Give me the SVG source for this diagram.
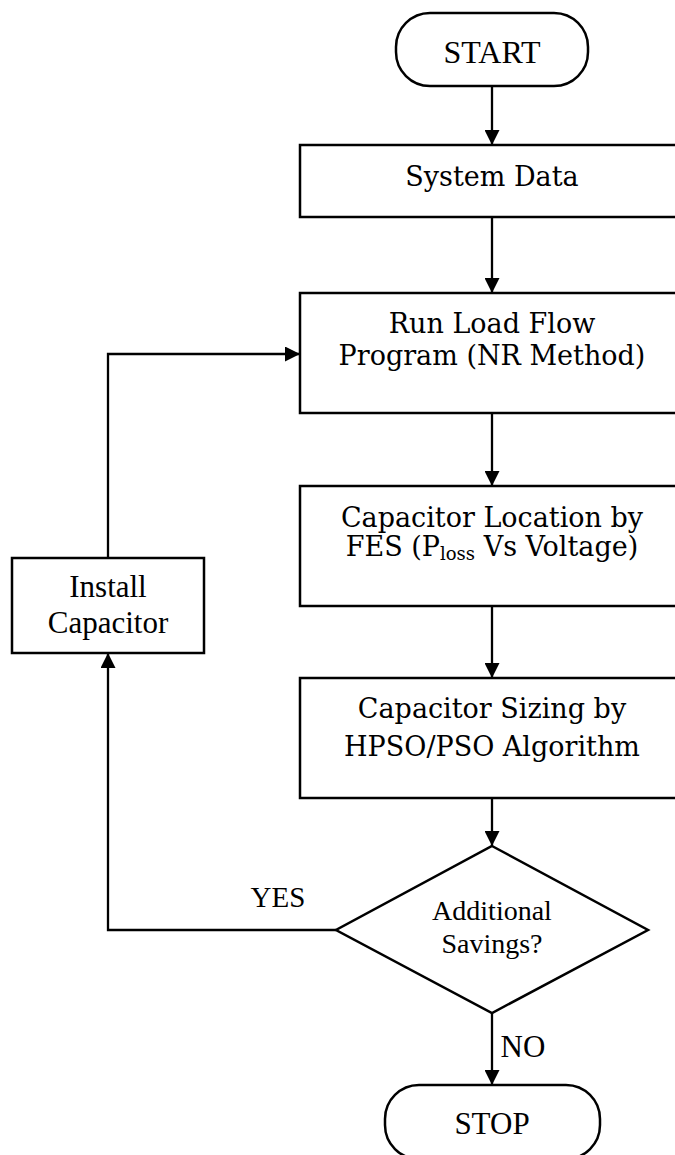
<svg xmlns="http://www.w3.org/2000/svg" width="675" height="1155" viewBox="0 0 675 1155">
<style>
.s{fill:#fff;stroke:#000;stroke-width:2.5}
.c{fill:none;stroke:#000;stroke-width:2.3}
.p{font-family:"DejaVu Serif","Liberation Serif",serif;font-size:27px;text-anchor:middle;fill:#000}
.t{font-family:"Liberation Serif","Times New Roman",serif;font-size:31px;text-anchor:middle;fill:#000}
.d{font-family:"Liberation Serif","Times New Roman",serif;font-size:28px;text-anchor:middle;fill:#000}
</style>
<defs>
<marker id="ah" markerWidth="15" markerHeight="15" refX="15" refY="7.5" orient="auto" markerUnits="userSpaceOnUse">
<path d="M0,0 L15,7.5 L0,15 Z" fill="#000"/>
</marker>
</defs>
<rect width="675" height="1155" fill="#fff"/>
<g id="connectors">
<line class="c" x1="492" y1="86" x2="492" y2="145" marker-end="url(#ah)"/>
<line class="c" x1="492" y1="217" x2="492" y2="293" marker-end="url(#ah)"/>
<line class="c" x1="492" y1="413" x2="492" y2="486" marker-end="url(#ah)"/>
<line class="c" x1="492" y1="606" x2="492" y2="678" marker-end="url(#ah)"/>
<line class="c" x1="492" y1="798" x2="492" y2="846" marker-end="url(#ah)"/>
<line class="c" x1="492" y1="1013" x2="492" y2="1085" marker-end="url(#ah)"/>
<polyline class="c" points="336,930 108,930 108,653" marker-end="url(#ah)"/>
<polyline class="c" points="108,558 108,354 300,354" marker-end="url(#ah)"/>
<text class="d" x="278" y="907" style="font-size:29px">YES</text>
<text class="d" x="523" y="1057" style="font-size:31px">NO</text>
</g>
<g id="start">
<rect class="s" x="396" y="13" width="192" height="73" rx="34" ry="34"/>
<text class="t" x="492" y="63" style="font-size:32px">START</text>
</g>
<g id="system-data">
<rect class="s" x="300" y="145" width="390" height="72"/>
<text class="p" x="492" y="186">System Data</text>
</g>
<g id="load-flow">
<rect class="s" x="300" y="293" width="390" height="120"/>
<text class="p" x="492" y="333">Run Load Flow</text>
<text class="p" x="492" y="365">Program (NR Method)</text>
</g>
<g id="cap-location">
<rect class="s" x="300" y="486" width="390" height="120"/>
<text class="p" x="492" y="527">Capacitor Location by</text>
<text class="p" x="492" y="556">FES (P<tspan style="font-size:18px" dy="4">loss</tspan><tspan dy="-4"> Vs Voltage)</tspan></text>
</g>
<g id="cap-sizing">
<rect class="s" x="300" y="678" width="390" height="120"/>
<text class="p" x="492" y="718">Capacitor Sizing by</text>
<text class="p" x="492" y="756">HPSO/PSO Algorithm</text>
</g>
<g id="decision">
<polygon class="s" points="492,846 648,930 492,1013 336,930"/>
<text class="d" x="492" y="920">Additional</text>
<text class="d" x="492" y="953">Savings?</text>
</g>
<g id="install">
<rect class="s" x="12" y="558" width="192" height="95"/>
<text class="t" x="108" y="597">Install</text>
<text class="t" x="108" y="633">Capacitor</text>
</g>
<g id="stop">
<rect class="s" x="385" y="1085" width="215" height="74" rx="34" ry="34"/>
<text class="t" x="492" y="1134">STOP</text>
</g>
</svg>
